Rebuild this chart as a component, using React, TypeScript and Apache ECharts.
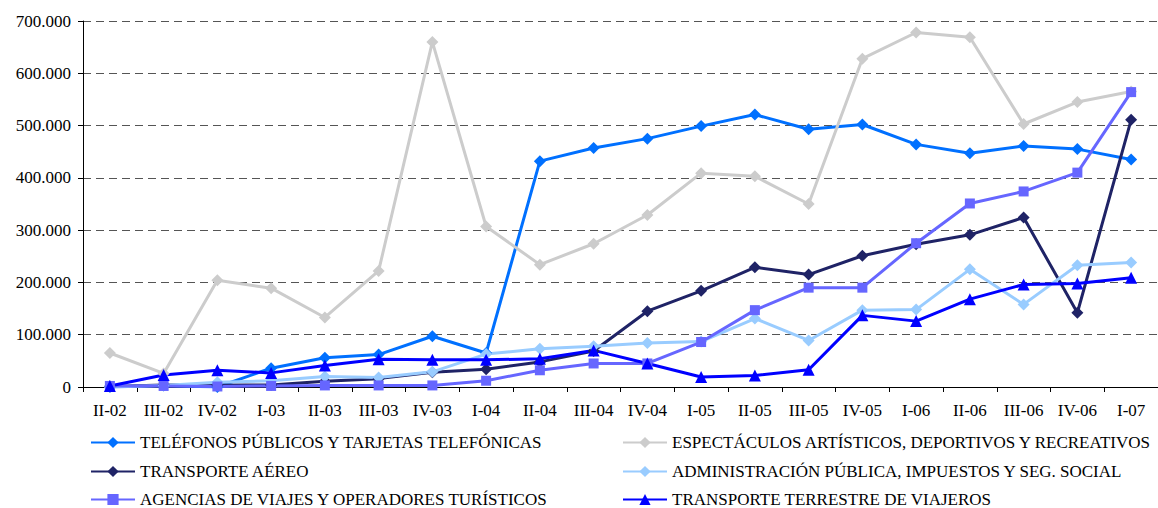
import React, { useEffect, useRef } from "react";
import * as echarts from "echarts";

const categories = ["II-02", "III-02", "IV-02", "I-03", "II-03", "III-03", "IV-03", "I-04", "II-04", "III-04", "IV-04", "I-05", "II-05", "III-05", "IV-05", "I-06", "II-06", "III-06", "IV-06", "I-07"];

const telefonos = [0, 3000, 0, 36000, 56000, 62000, 97000, 65000, 432000, 457000, 475000, 499000, 521000, 493000, 502000, 464000, 447000, 461000, 455000, 435000];
const espectaculos = [65000, 26000, 204000, 189000, 133000, 222000, 660000, 307000, 234000, 274000, 329000, 409000, 403000, 350000, 628000, 678000, 669000, 503000, 545000, 565000];
const aereo = [1000, 4000, 4000, 4000, 11000, 16000, 28000, 34000, 48000, 69000, 145000, 184000, 229000, 215000, 251000, 273000, 291000, 324000, 142000, 511000];
const administracion = [0, 3000, 9000, 12000, 20000, 18000, 29000, 63000, 73000, 78000, 84000, 87000, 131000, 89000, 147000, 148000, 225000, 158000, 233000, 238000];
const agencias = [2000, 2000, 1000, 2000, 3000, 3000, 3000, 12000, 32000, 45000, 45000, 86000, 147000, 190000, 190000, 275000, 351000, 374000, 410000, 564000];
const terrestre = [2000, 23000, 32000, 27000, 41000, 53000, 52000, 52000, 54000, 70000, 45000, 19000, 22000, 33000, 137000, 126000, 168000, 196000, 198000, 209000];

const seriesNames = [
  "TELÉFONOS PÚBLICOS Y TARJETAS TELEFÓNICAS",
  "ESPECTÁCULOS ARTÍSTICOS, DEPORTIVOS Y RECREATIVOS",
  "TRANSPORTE AÉREO",
  "ADMINISTRACIÓN PÚBLICA, IMPUESTOS Y SEG. SOCIAL",
  "AGENCIAS DE VIAJES Y OPERADORES TURÍSTICOS",
  "TRANSPORTE TERRESTRE DE VIAJEROS",
];
const seriesData = [telefonos, espectaculos, aereo, administracion, agencias, terrestre];
const seriesColors = ["#0070FF", "#CCCCCC", "#1F2366", "#99CCFF", "#6666FF", "#0000FF"];
const seriesSymbols = ["diamond", "diamond", "diamond", "diamond", "rect", "triangle"];
const seriesSymbolSizes = [12, 12, 12, 12, 10, 12];

const FONT = "'Liberation Serif', 'Times New Roman', serif";

function fmt(v: number): string {
  return String(v).replace(/\B(?=(\d{3})+(?!\d))/g, ".");
}

export default function App() {
  const ref = useRef<HTMLDivElement>(null);
  useEffect(() => {
    if (!ref.current) return;
    const chart = echarts.init(ref.current, null, { renderer: "svg" });
    const legendText = { fontFamily: FONT, fontSize: 17, lineHeight: 15, color: "#000" };
    // legend slots: [column left, row top]
    const legendSlots = [
      [90, 434],
      [622, 434],
      [90, 463],
      [622, 463],
      [90, 491],
      [622, 491],
    ];
    chart.setOption({
      animation: false,
      backgroundColor: "#fff",
      grid: { left: 83, top: 21, width: 1080, height: 366, containLabel: false },
      legend: seriesNames.map((name, i) => ({
        data: [name],
        orient: "horizontal",
        left: legendSlots[i][0],
        top: legendSlots[i][1],
        padding: 0,
        itemWidth: 44,
        itemHeight: 14,
        textStyle: legendText,
      })),
      xAxis: {
        type: "category",
        data: categories,
        boundaryGap: true,
        axisLine: { lineStyle: { color: "#000", width: 1 } },
        axisTick: { show: true, length: 5, inside: false, alignWithLabel: false, lineStyle: { color: "#000" } },
        axisLabel: { fontFamily: FONT, fontSize: 17, color: "#000", margin: 15, interval: 0 },
        splitLine: { show: false },
      },
      yAxis: {
        type: "value",
        min: 0,
        max: 700000,
        interval: 100000,
        axisLine: { show: true, lineStyle: { color: "#000", width: 1 } },
        axisTick: { show: true, length: 5, inside: false, lineStyle: { color: "#000" } },
        axisLabel: { fontFamily: FONT, fontSize: 17, color: "#000", margin: 12, formatter: (v: number) => fmt(v) },
        splitLine: { show: true, lineStyle: { color: "#555", width: 1, type: [8, 5] } },
      },
      series: seriesNames.map((name, i) => ({
        name,
        type: "line",
        data: seriesData[i],
        color: seriesColors[i],
        symbol: seriesSymbols[i],
        symbolSize: seriesSymbolSizes[i],
        showAllSymbol: true,
        lineStyle: { width: 3, color: seriesColors[i] },
        itemStyle: { color: seriesColors[i], borderWidth: 0 },
        emphasis: { disabled: true },
      })),
    });
    return () => chart.dispose();
  }, []);
  return (
    <div
      ref={ref}
      style={{ position: "fixed", left: 0, top: 0, width: 1158, height: 508, background: "#fff" }}
    />
  );
}
